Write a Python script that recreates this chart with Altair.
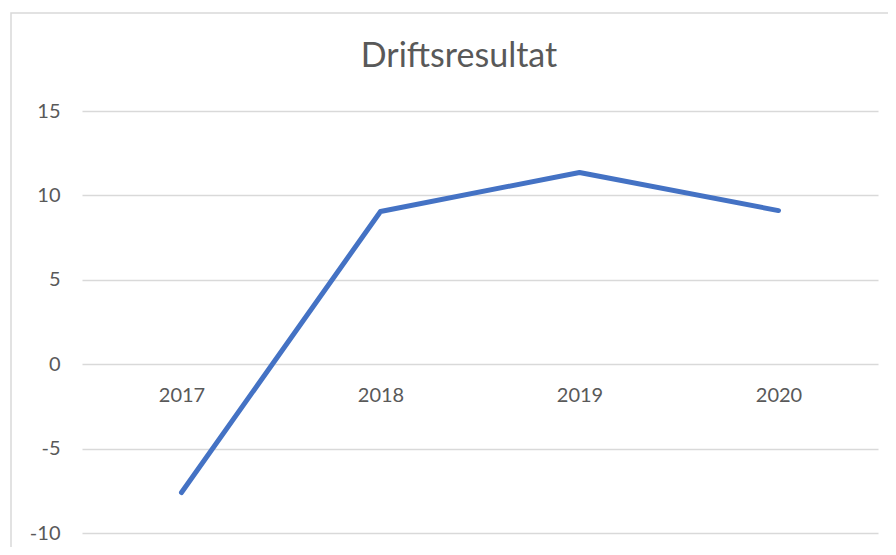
import altair as alt
import pandas as pd

years = ["2017", "2018", "2019", "2020"]
values = [-7.6, 9.05, 11.36, 9.1]
y_ticks = [-10, -5, 0, 5, 10, 15]

df = pd.DataFrame({"year": years, "value": values})
border_df = pd.DataFrame({"k": [0]})

FONT = "Lato"
TEXT = "#595959"
GRID = "#d9d9d9"

line = alt.Chart(df).mark_line(
    color="#4472C4", strokeWidth=5, strokeCap="round", strokeJoin="round"
).encode(
    x=alt.X(
        "year:O",
        sort=years,
        scale=alt.Scale(type="point", padding=0.5),
        axis=alt.Axis(
            title=None, domain=False, ticks=False, grid=False, labelAngle=0,
            labelFont=FONT, labelFontSize=20, labelColor=TEXT,
            labelPadding=21, offset=-169,
        ),
    ),
    y=alt.Y(
        "value:Q",
        scale=alt.Scale(domain=[-10, 15], nice=False, zero=False),
        axis=alt.Axis(
            title=None, values=y_ticks, domain=False, ticks=False,
            grid=True, gridColor=GRID, gridWidth=1.3,
            labelFont=FONT, labelFontSize=20, labelColor=TEXT,
            labelPadding=22, labelExpr="'' + datum.value",
        ),
    ),
)

border = alt.Chart(border_df).mark_rect(
    fill=None, stroke=GRID, strokeWidth=1.5, clip=False
).encode(
    x=alt.value(-71), x2=alt.value(840), y=alt.value(-98), y2=alt.value(470)
)

chart = alt.layer(border, line).properties(
    width=796,
    height=422,
    title=alt.TitleParams(
        "Driftsresultat", font=FONT, fontSize=34, fontWeight="normal",
        color=TEXT, anchor="middle", dx=-21, offset=-89, frame="group",
        baseline="alphabetic",
    ),
    autosize=alt.AutoSizeParams(type="none"),
    padding={"left": 74, "top": 103, "right": 10, "bottom": 14},
).configure(background="white").configure_view(stroke=None)

chart.save("out.html", embed_options={"renderer": "svg", "actions": False})
